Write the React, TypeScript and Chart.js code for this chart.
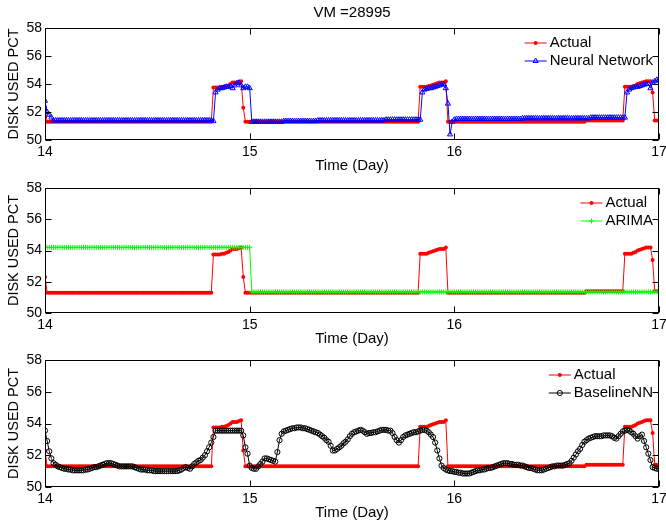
import { useEffect, useRef } from "react"
import { Chart, registerables } from "chart.js"
import { drawPoint } from "chart.js/helpers"

Chart.register(...registerables)

// 15-minute samples from day 14 to day 17 (96 per day, 289 points)
const SAMPLES_PER_DAY = 96
const X_TICKS = [14, 15, 16, 17]
const Y_TICKS = [50, 52, 54, 56, 58]

const ACTUAL = [
  52.3, 51.3, 51.3, 51.3, 51.3, 51.3, 51.3, 51.3, 51.3, 51.3, 51.3, 51.3, 51.3, 51.3, 51.3, 51.3,
  51.3, 51.3, 51.3, 51.3, 51.3, 51.3, 51.3, 51.3, 51.3, 51.3, 51.3, 51.3, 51.3, 51.3, 51.3, 51.3,
  51.3, 51.3, 51.3, 51.3, 51.3, 51.3, 51.3, 51.3, 51.3, 51.3, 51.3, 51.3, 51.3, 51.3, 51.3, 51.3,
  51.3, 51.3, 51.3, 51.3, 51.3, 51.3, 51.3, 51.3, 51.3, 51.3, 51.3, 51.3, 51.3, 51.3, 51.3, 51.3,
  51.3, 51.3, 51.3, 51.3, 51.3, 51.3, 51.3, 51.3, 51.3, 51.3, 51.3, 51.3, 51.3, 51.3, 51.3, 53.75,
  53.75, 53.75, 53.75, 53.8, 53.8, 53.85, 53.9, 54.0, 54.1, 54.1, 54.1, 54.15, 54.2, 52.3, 51.3, 51.3,
  51.3, 51.3, 51.3, 51.3, 51.3, 51.3, 51.3, 51.3, 51.3, 51.3, 51.3, 51.3, 51.3, 51.3, 51.3, 51.3,
  51.3, 51.3, 51.3, 51.3, 51.3, 51.3, 51.3, 51.3, 51.3, 51.3, 51.3, 51.3, 51.3, 51.3, 51.3, 51.3,
  51.3, 51.3, 51.3, 51.3, 51.3, 51.3, 51.3, 51.3, 51.3, 51.3, 51.3, 51.3, 51.3, 51.3, 51.3, 51.3,
  51.3, 51.3, 51.3, 51.3, 51.3, 51.3, 51.3, 51.3, 51.3, 51.3, 51.3, 51.3, 51.3, 51.3, 51.3, 51.3,
  51.3, 51.3, 51.3, 51.3, 51.3, 51.3, 51.3, 51.3, 51.3, 51.3, 51.3, 51.3, 51.3, 51.3, 51.3, 51.3,
  53.8, 53.8, 53.8, 53.8, 53.85, 53.9, 53.95, 54.0, 54.05, 54.1, 54.1, 54.1, 54.2, 51.3, 51.3, 51.3,
  51.3, 51.3, 51.3, 51.3, 51.3, 51.3, 51.3, 51.3, 51.3, 51.3, 51.3, 51.3, 51.3, 51.3, 51.3, 51.3,
  51.3, 51.3, 51.3, 51.3, 51.3, 51.3, 51.3, 51.3, 51.3, 51.3, 51.3, 51.3, 51.3, 51.3, 51.3, 51.3,
  51.3, 51.3, 51.3, 51.3, 51.3, 51.3, 51.3, 51.3, 51.3, 51.3, 51.3, 51.3, 51.3, 51.3, 51.3, 51.3,
  51.3, 51.3, 51.3, 51.3, 51.3, 51.3, 51.3, 51.3, 51.3, 51.3, 51.3, 51.3, 51.3, 51.3, 51.4, 51.4,
  51.4, 51.4, 51.4, 51.4, 51.4, 51.4, 51.4, 51.4, 51.4, 51.4, 51.4, 51.4, 51.4, 51.4, 51.4, 51.4,
  53.8, 53.8, 53.8, 53.8, 53.85, 53.9, 54.0, 54.05, 54.1, 54.15, 54.2, 54.2, 54.2, 53.4, 51.4, 51.4,
  51.4,
]

const NEURAL_NETWORK = [
  52.8, 52.0, 51.8, 51.6, 51.4, 51.4, 51.4, 51.4, 51.4, 51.4, 51.4, 51.4, 51.4, 51.4, 51.4, 51.4,
  51.4, 51.4, 51.4, 51.4, 51.4, 51.4, 51.4, 51.4, 51.4, 51.4, 51.4, 51.4, 51.4, 51.4, 51.4, 51.4,
  51.4, 51.4, 51.4, 51.4, 51.4, 51.4, 51.4, 51.4, 51.4, 51.4, 51.4, 51.4, 51.4, 51.4, 51.4, 51.4,
  51.4, 51.4, 51.4, 51.4, 51.4, 51.4, 51.4, 51.4, 51.4, 51.4, 51.4, 51.4, 51.4, 51.4, 51.4, 51.4,
  51.4, 51.4, 51.4, 51.4, 51.4, 51.4, 51.4, 51.4, 51.4, 51.4, 51.4, 51.4, 51.4, 51.4, 51.4, 51.35,
  53.4, 53.6, 53.7, 53.7, 53.75, 53.8, 53.8, 53.85, 53.7, 53.9, 54.05, 54.1, 53.9, 53.7, 53.8, 53.8,
  53.7, 51.3, 51.3, 51.3, 51.3, 51.3, 51.3, 51.3, 51.3, 51.3, 51.3, 51.3, 51.3, 51.3, 51.3, 51.3,
  51.35, 51.35, 51.35, 51.35, 51.35, 51.35, 51.35, 51.35, 51.35, 51.35, 51.35, 51.35, 51.35, 51.35, 51.35, 51.35,
  51.4, 51.4, 51.4, 51.4, 51.4, 51.4, 51.4, 51.4, 51.4, 51.4, 51.4, 51.4, 51.4, 51.4, 51.4, 51.4,
  51.4, 51.4, 51.4, 51.4, 51.4, 51.4, 51.4, 51.4, 51.4, 51.4, 51.4, 51.4, 51.4, 51.4, 51.4, 51.4,
  51.45, 51.45, 51.45, 51.45, 51.45, 51.45, 51.45, 51.45, 51.45, 51.45, 51.45, 51.45, 51.45, 51.45, 51.45, 51.45,
  51.45, 53.4, 53.6, 53.65, 53.7, 53.7, 53.75, 53.8, 53.85, 53.9, 53.95, 54.0, 53.7, 52.6, 50.4, 51.3,
  51.45, 51.5, 51.5, 51.5, 51.5, 51.5, 51.5, 51.5, 51.5, 51.5, 51.5, 51.5, 51.5, 51.5, 51.5, 51.5,
  51.5, 51.5, 51.5, 51.5, 51.5, 51.5, 51.5, 51.5, 51.5, 51.5, 51.5, 51.5, 51.5, 51.5, 51.5, 51.5,
  51.55, 51.55, 51.55, 51.55, 51.55, 51.55, 51.55, 51.55, 51.55, 51.55, 51.55, 51.55, 51.55, 51.55, 51.55, 51.55,
  51.55, 51.55, 51.55, 51.55, 51.55, 51.55, 51.55, 51.55, 51.55, 51.55, 51.55, 51.55, 51.55, 51.55, 51.55, 51.55,
  51.6, 51.6, 51.6, 51.6, 51.6, 51.6, 51.6, 51.6, 51.6, 51.6, 51.6, 51.6, 51.6, 51.6, 51.6, 51.6,
  51.6, 53.4, 53.6, 53.7, 53.75, 53.8, 53.8, 53.85, 53.9, 53.95, 54.0, 54.0, 53.7, 54.1, 54.2, 54.3,
  54.3,
]

const ARIMA = [
  54.2, 54.2, 54.2, 54.2, 54.2, 54.2, 54.2, 54.2, 54.2, 54.2, 54.2, 54.2, 54.2, 54.2, 54.2, 54.2,
  54.2, 54.2, 54.2, 54.2, 54.2, 54.2, 54.2, 54.2, 54.2, 54.2, 54.2, 54.2, 54.2, 54.2, 54.2, 54.2,
  54.2, 54.2, 54.2, 54.2, 54.2, 54.2, 54.2, 54.2, 54.2, 54.2, 54.2, 54.2, 54.2, 54.2, 54.2, 54.2,
  54.2, 54.2, 54.2, 54.2, 54.2, 54.2, 54.2, 54.2, 54.2, 54.2, 54.2, 54.2, 54.2, 54.2, 54.2, 54.2,
  54.2, 54.2, 54.2, 54.2, 54.2, 54.2, 54.2, 54.2, 54.2, 54.2, 54.2, 54.2, 54.2, 54.2, 54.2, 54.2,
  54.2, 54.2, 54.2, 54.2, 54.2, 54.2, 54.2, 54.2, 54.2, 54.2, 54.2, 54.2, 54.2, 54.2, 54.2, 54.2,
  54.2, 51.35, 51.35, 51.35, 51.35, 51.35, 51.35, 51.35, 51.35, 51.35, 51.35, 51.35, 51.35, 51.35, 51.35, 51.35,
  51.35, 51.35, 51.35, 51.35, 51.35, 51.35, 51.35, 51.35, 51.35, 51.35, 51.35, 51.35, 51.35, 51.35, 51.35, 51.35,
  51.35, 51.35, 51.35, 51.35, 51.35, 51.35, 51.35, 51.35, 51.35, 51.35, 51.35, 51.35, 51.35, 51.35, 51.35, 51.35,
  51.35, 51.35, 51.35, 51.35, 51.35, 51.35, 51.35, 51.35, 51.35, 51.35, 51.35, 51.35, 51.35, 51.35, 51.35, 51.35,
  51.35, 51.35, 51.35, 51.35, 51.35, 51.35, 51.35, 51.35, 51.35, 51.35, 51.35, 51.35, 51.35, 51.35, 51.35, 51.35,
  51.35, 51.35, 51.35, 51.35, 51.35, 51.35, 51.35, 51.35, 51.35, 51.35, 51.35, 51.35, 51.35, 51.35, 51.35, 51.35,
  51.35, 51.35, 51.35, 51.35, 51.35, 51.35, 51.35, 51.35, 51.35, 51.35, 51.35, 51.35, 51.35, 51.35, 51.35, 51.35,
  51.35, 51.35, 51.35, 51.35, 51.35, 51.35, 51.35, 51.35, 51.35, 51.35, 51.35, 51.35, 51.35, 51.35, 51.35, 51.35,
  51.35, 51.35, 51.35, 51.35, 51.35, 51.35, 51.35, 51.35, 51.35, 51.35, 51.35, 51.35, 51.35, 51.35, 51.35, 51.35,
  51.35, 51.35, 51.35, 51.35, 51.35, 51.35, 51.35, 51.35, 51.35, 51.35, 51.35, 51.35, 51.35, 51.35, 51.35, 51.35,
  51.35, 51.35, 51.35, 51.35, 51.35, 51.35, 51.35, 51.35, 51.35, 51.35, 51.35, 51.35, 51.35, 51.35, 51.35, 51.35,
  51.35, 51.35, 51.35, 51.35, 51.35, 51.35, 51.35, 51.35, 51.35, 51.35, 51.35, 51.35, 51.35, 51.35, 51.35, 51.35,
  51.35,
]

const BASELINE_NN = [
  53.55, 52.9, 52.25, 51.8, 51.5, 51.4, 51.3, 51.25, 51.2, 51.15, 51.15, 51.1, 51.1, 51.05, 51.05, 51.05,
  51.05, 51.05, 51.05, 51.1, 51.1, 51.15, 51.2, 51.25, 51.25, 51.3, 51.35, 51.4, 51.45, 51.5, 51.5, 51.5,
  51.45, 51.4, 51.35, 51.3, 51.3, 51.3, 51.3, 51.3, 51.3, 51.3, 51.25, 51.2, 51.15, 51.1, 51.1, 51.1,
  51.05, 51.05, 51.05, 51.0, 51.0, 51.0, 51.0, 51.0, 51.0, 51.0, 51.0, 51.0, 51.0, 51.0, 51.0, 51.05,
  51.1, 51.2, 51.25, 51.2, 51.15, 51.3, 51.45, 51.55, 51.65, 51.7, 51.85, 52.0, 52.25, 52.5, 52.8, 53.15,
  53.55, 53.55, 53.55, 53.55, 53.55, 53.55, 53.55, 53.55, 53.55, 53.55, 53.55, 53.55, 53.55, 53.25, 52.5, 52.1,
  51.35, 51.2, 51.15, 51.15, 51.3, 51.45, 51.6, 51.8, 51.8, 51.75, 51.7, 51.65, 51.6, 52.2, 52.95, 53.35,
  53.5, 53.55, 53.6, 53.65, 53.7, 53.7, 53.75, 53.75, 53.75, 53.7, 53.7, 53.65, 53.6, 53.55, 53.5, 53.45,
  53.4, 53.3, 53.2, 53.1, 52.95, 52.85, 52.6, 52.3, 52.3, 52.4, 52.5, 52.6, 52.75, 52.85, 53.0, 53.2,
  53.35, 53.45, 53.5, 53.55, 53.6, 53.55, 53.45, 53.35, 53.4, 53.4, 53.45, 53.45, 53.5, 53.55, 53.6, 53.6,
  53.6, 53.55, 53.55, 53.4, 53.15, 52.95, 52.8, 52.95, 53.15, 53.25, 53.3, 53.35, 53.4, 53.45, 53.45, 53.5,
  53.55, 53.6, 53.6, 53.55, 53.45, 53.3, 53.15, 52.8, 52.3, 51.8, 51.35, 51.2, 51.1, 51.05, 51.0, 51.0,
  50.95, 50.95, 50.9, 50.9, 50.85, 50.85, 50.85, 50.85, 50.9, 50.95, 51.0, 51.05, 51.05, 51.1, 51.1, 51.15,
  51.2, 51.2, 51.25, 51.3, 51.35, 51.4, 51.45, 51.5, 51.5, 51.5, 51.45, 51.45, 51.4, 51.4, 51.4, 51.35,
  51.35, 51.3, 51.25, 51.2, 51.2, 51.15, 51.1, 51.05, 51.05, 51.05, 51.1, 51.15, 51.2, 51.25, 51.3, 51.3,
  51.35, 51.35, 51.35, 51.35, 51.4, 51.45, 51.5, 51.65, 51.85, 52.05, 52.25, 52.4, 52.65, 52.85, 52.95, 53.05,
  53.1, 53.15, 53.2, 53.2, 53.2, 53.2, 53.25, 53.25, 53.25, 53.25, 53.2, 53.1, 53.05, 53.2, 53.35, 53.5,
  53.55, 53.6, 53.55, 53.45, 53.35, 53.2, 53.05, 53.2, 53.3, 52.9, 52.5, 52.1, 51.7, 51.25, 51.2, 51.15,
  51.15,
]

const TIME_DAY = ACTUAL.map((_, i) => 14 + i / SAMPLES_PER_DAY)

const FONT = '"Liberation Sans", Arial, Helvetica, sans-serif'

Chart.defaults.font.family = FONT
Chart.defaults.color = "#000"

const toPoints = (values: number[]) => values.map((y, i) => ({ x: TIME_DAY[i], y }))

function makeSeries(label: string, values: number[], color: string, marker: string, radius: number, filled: boolean, order: number) {
  return {
    label,
    data: toPoints(values),
    borderColor: color,
    borderWidth: 1,
    pointStyle: marker,
    pointRadius: radius,
    pointBorderWidth: filled ? 0 : 1,
    pointBorderColor: color,
    pointBackgroundColor: filled ? color : "rgba(0,0,0,0)",
    order,
  }
}

// box round the plot with MATLAB-style inward ticks
const framePlugin = {
  id: "matlabFrame",
  afterDraw(chart: any) {
    const { ctx, chartArea: a, scales } = chart
    const L = Math.round(a.left) + 0.5
    const R = Math.round(a.right) - 0.5
    const T = Math.round(a.top) + 0.5
    const B = Math.round(a.bottom) - 0.5
    const tick = 6
    ctx.save()
    ctx.strokeStyle = "#000"
    ctx.lineWidth = 1
    ctx.strokeRect(L, T, R - L, B - T)
    ctx.beginPath()
    X_TICKS.forEach((v) => {
      const px = Math.round(scales.x.getPixelForValue(v)) + 0.5
      ctx.moveTo(px, T)
      ctx.lineTo(px, T + tick)
      ctx.moveTo(px, B)
      ctx.lineTo(px, B - tick)
    })
    Y_TICKS.forEach((v) => {
      const py = Math.round(scales.y.getPixelForValue(v)) + 0.5
      ctx.moveTo(L, py)
      ctx.lineTo(L + tick, py)
      ctx.moveTo(R, py)
      ctx.lineTo(R - tick, py)
    })
    ctx.stroke()
    ctx.restore()
  },
}

const legendPlugin = {
  id: "matlabLegend",
  afterDraw(chart: any, _args: any, opts: any) {
    const { ctx, chartArea: a } = chart
    const sets = chart.data.datasets
    ctx.save()
    ctx.font = "15px " + FONT
    const textW = Math.max(...sets.map((d: any) => ctx.measureText(d.label).width))
    const textX = a.right - 6 - textW
    const lineR = textX - 3
    const lineL = lineR - 22
    sets.forEach((d: any, k: number) => {
      const y = a.top + 15 + k * 18
      ctx.strokeStyle = d.borderColor
      ctx.lineWidth = 1
      ctx.beginPath()
      ctx.moveTo(lineL, y)
      ctx.lineTo(lineR, y)
      ctx.stroke()
      ctx.fillStyle = d.pointBackgroundColor
      ctx.strokeStyle = d.pointBorderColor
      ctx.lineWidth = d.pointBorderWidth
      drawPoint(ctx, { pointStyle: d.pointStyle, radius: d.pointRadius, borderWidth: d.pointBorderWidth, rotation: 0 }, (lineL + lineR) / 2, y)
      ctx.fillStyle = "#000"
      ctx.textAlign = "left"
      ctx.textBaseline = "middle"
      ctx.fillText(d.label, textX, y)
    })
    if (opts && opts.title) {
      ctx.font = "15px " + FONT
      ctx.textAlign = "center"
      ctx.textBaseline = "middle"
      ctx.fillText(opts.title, (a.left + a.right) / 2, a.top - 15)
    }
    ctx.restore()
  },
}

const PAD_TOP = 28
const AXIS_H = 38

function Panel({ top, plotHeight, datasets, title }: { top: number; plotHeight: number; datasets: any[]; title?: string }) {
  const canvasRef = useRef<HTMLCanvasElement>(null)
  const height = PAD_TOP + plotHeight + AXIS_H

  useEffect(() => {
    if (!canvasRef.current) return
    const chart = new Chart(canvasRef.current, {
      type: "line",
      data: { datasets },
      options: {
        responsive: false,
        animation: false,
        layout: { padding: { top: PAD_TOP, left: 0, right: 7, bottom: 0 } },
        scales: {
          x: {
            type: "linear",
            min: 14,
            max: 17,
            afterBuildTicks: (s: any) => {
              s.ticks = X_TICKS.map((v) => ({ value: v }))
            },
            ticks: { padding: 4, color: "#000", font: { size: 14 }, maxRotation: 0, autoSkip: false },
            grid: { display: false, drawTicks: false },
            border: { display: false },
            title: { display: true, text: "Time (Day)", color: "#000", font: { size: 15 }, padding: { top: 0, bottom: 3.6 } },
            afterFit: (s: any) => {
              s.height = AXIS_H
              s.paddingLeft = 0
              s.paddingRight = 0
            },
          },
          y: {
            type: "linear",
            min: 50,
            max: 58,
            afterBuildTicks: (s: any) => {
              s.ticks = Y_TICKS.map((v) => ({ value: v }))
            },
            ticks: { padding: 3, color: "#000", font: { size: 14 } },
            grid: { display: false, drawTicks: false },
            border: { display: false },
            title: { display: true, text: "DISK USED PCT", color: "#000", font: { size: 14.5 }, padding: { top: 5, bottom: 0 } },
            afterFit: (s: any) => {
              s.width = 45
              s.paddingTop = 0
              s.paddingBottom = 0
            },
          },
        },
        plugins: {
          legend: { display: false },
          tooltip: { enabled: false },
          title: { display: false },
          matlabLegend: { title },
        } as any,
      },
      plugins: [framePlugin, legendPlugin],
    } as any)
    return () => chart.destroy()
  }, [])

  return (
    <canvas
      ref={canvasRef}
      width={666}
      height={height}
      style={{ position: "absolute", left: 0, top, width: 666, height }}
    />
  )
}

export default function App() {
  const actual = () => makeSeries("Actual", ACTUAL, "#ff0000", "circle", 2, true, 2)
  return (
    <div style={{ position: "absolute", left: 0, top: 0, width: 666, height: 525, background: "#fff", overflow: "hidden" }}>
      <Panel
        top={0}
        plotHeight={112}
        title="VM =28995"
        datasets={[actual(), makeSeries("Neural Network", NEURAL_NETWORK, "#0000ff", "triangle", 3, false, 1)]}
      />
      <Panel
        top={160}
        plotHeight={125}
        datasets={[actual(), makeSeries("ARIMA", ARIMA, "#00ff00", "cross", 2.5, false, 1)]}
      />
      <Panel
        top={332}
        plotHeight={127}
        datasets={[actual(), makeSeries("BaselineNN", BASELINE_NN, "#000000", "circle", 2.6, false, 1)]}
      />
    </div>
  )
}
